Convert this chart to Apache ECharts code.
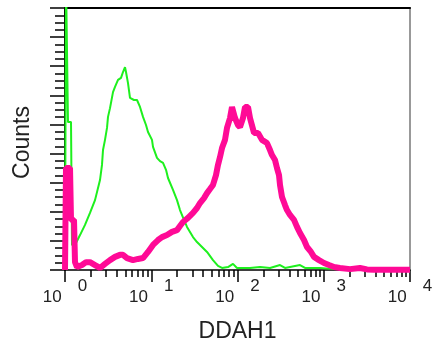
<!DOCTYPE html>
<html>
<head>
<meta charset="utf-8">
<script src="https://cdn.jsdelivr.net/npm/echarts@6/dist/echarts.min.js"></script>
<style>
html,body{margin:0;padding:0;background:#fff;}
#chart{width:437px;height:358px;}
</style>
</head>
<body>
<div id="chart"></div>
<script>
// Axis ticks / labels
const xMin = 1, xMax = 10000;
const yMin = 0, yMax = 90, yInterval = 10;
const majorTicks = [1, 10, 100, 1000, 10000];
const exponentLabels = ['0', '1', '2', '3', '4'];
const minorTicks = [2,3,4,5,6,7,8,9, 20,30,40,50,60,70,80,90, 200,300,400,500,600,700,800,900, 2000,3000,4000,5000,6000,7000,8000,9000];

// Green histogram (DDAH1 channel value, counts)
const greenX = [1,1.027,1.083,1.083,1.174,1.206,1.306,1.493,1.706,1.949,2.228,2.545,2.685,2.758,2.909,3.069,3.152,3.325,3.602,3.800,4.117,4.460,4.704,4.963,5.096,5.376,5.670,6.310,6.837,7.406,8.024,8.694,9.170,10.20,10.48,11.66,12.63,13.69,14.83,15.64,17.87,19.89,21.54,23.97,25.97,30.49,33.92,36.75,44.31,51.99,59.40,66.13,77.62,88.68,98.67,139.6,182.4,238.2,311.1,355.4,530.5,606.2,904.6,1350];
const greenY = [0,100,100,50.8,50.8,8.6,8.6,12.0,15.5,19.6,24.0,30.9,36.1,41.2,44.7,48.8,52.6,55.6,61.1,62.9,65.3,66.0,68.0,69.7,68.0,64.2,59.1,58.4,58.4,56.0,52.6,49.8,47.4,44.7,42.3,38.5,37.4,36.8,34.4,31.6,27.5,24.0,20.6,17.2,14.8,11.3,9.6,8.6,6.2,3.4,1.4,0.7,1.0,2.1,0.7,0.7,1.0,0.7,1.7,0.7,1.7,0.7,0.7,0.3];

// Magenta histogram
const pinkX = [1,1.027,1.143,1.174,1.272,1.306,1.378,1.574,1.752,1.949,2.228,2.545,2.909,3.325,3.800,4.342,4.704,5.234,6.143,7.022,8.024,9.170,10.48,11.98,13.32,15.22,17.40,19.89,21.54,23.34,26.67,30.49,33.92,36.75,40.89,44.31,48.00,51.99,56.33,59.40,62.69,66.13,71.64,75.55,81.85,86.35,91.08,93.54,101.3,106.9,115.8,122.2,132.4,139.6,155.4,172.9,192.3,219.8,238.2,251.2,272.1,287.1,302.9,311.1,328.1,355.4,374.8,406.1,451.9,489.7,530.5,590.2,639.6,711.6,771.0,880.9,1007,1150,1315,1543,2015,2633,3173,3825,5863,10000];
const pinkY = [0,35.0,35.0,17.2,17.2,2.7,1.0,1.7,2.7,2.7,1.7,0.7,2.1,3.4,4.5,5.2,5.2,4.1,3.4,3.8,4.1,6.2,8.6,10.3,11.3,12.0,13.1,13.7,15.1,16.5,17.9,19.6,21.3,23.0,24.7,26.4,27.8,29.2,32.6,36.1,38.8,41.9,44.7,48.8,52.2,56.0,56.0,52.2,49.8,49.1,52.2,56.0,56.0,52.2,47.1,47.1,44.7,43.6,41.2,39.5,37.8,35.0,32.6,29.2,25.1,22.3,20.6,18.9,17.2,14.8,12.7,10.3,7.9,6.2,4.5,3.4,2.4,1.7,1.0,0.7,0.3,0.7,0.2,0.1,0.1,0.1];

const greenData = greenX.map((x, i) => [x, greenY[i]]);
const pinkData = pinkX.map((x, i) => [x, pinkY[i]]);

const textColor = '#222';
const fontFam = '"Liberation Sans", Arial, sans-serif';

function expLabel(value) {
  let idx = 0;
  for (let i = 0; i < majorTicks.length; i++) {
    if (Math.abs(Math.log10(value) - Math.log10(majorTicks[i])) < 0.01) idx = i;
  }
  return '{b|10}{e|' + exponentLabels[idx] + '}';
}

const chart = echarts.init(document.getElementById('chart'), null, {renderer: 'canvas'});
chart.setOption({
  animation: false,
  backgroundColor: '#fff',
  grid: {left: 65, right: 27, top: 8, bottom: 88, containLabel: false},
  xAxis: [
    {
      type: 'log', logBase: 10, min: xMin, max: xMax, position: 'bottom', offset: 2,
      name: 'DDAH1', nameLocation: 'middle', nameGap: 48,
      nameTextStyle: {fontSize: 23, color: textColor, fontFamily: fontFam},
      axisLine: {show: true, lineStyle: {color: '#000', width: 1.5}},
      axisTick: {show: true, inside: false, length: 12, customValues: majorTicks, lineStyle: {color: '#000', width: 1.5}},
      axisLabel: {
        show: true, margin: 11, customValues: majorTicks, formatter: expLabel,
        color: textColor, fontFamily: fontFam,
        rich: {
          b: {fontSize: 17, lineHeight: 17, padding: [11, 0, 0, 0], color: textColor, fontFamily: fontFam},
          e: {fontSize: 17, lineHeight: 17, padding: [0, 0, 11, 16], color: textColor, fontFamily: fontFam}
        }
      },
      splitLine: {show: false}, minorTick: {show: false}
    },
    {
      type: 'log', logBase: 10, min: xMin, max: xMax, position: 'bottom', offset: 2,
      axisLine: {show: false},
      axisTick: {show: true, inside: false, length: 7, customValues: minorTicks, lineStyle: {color: '#000', width: 1.5}},
      axisLabel: {show: false},
      splitLine: {show: false}
    },
    {
      type: 'log', logBase: 10, min: xMin, max: xMax, position: 'top',
      axisLine: {show: true, lineStyle: {color: '#000', width: 2}},
      axisTick: {show: false}, axisLabel: {show: false}, splitLine: {show: false}
    }
  ],
  yAxis: [
    {
      type: 'value', min: yMin, max: yMax, interval: yInterval, position: 'left',
      name: 'Counts', nameLocation: 'middle', nameGap: 31, nameRotate: 90,
      nameTextStyle: {fontSize: 23, color: textColor, fontFamily: fontFam, padding: [0, 7, 0, 0]},
      axisLine: {show: true, lineStyle: {color: '#000', width: 2}},
      axisTick: {show: true, inside: false, length: 15, lineStyle: {color: '#000', width: 1.5}},
      minorTick: {show: true, splitNumber: 4, length: 10, lineStyle: {color: '#000', width: 1.5}},
      axisLabel: {show: false},
      splitLine: {show: false}
    },
    {
      type: 'value', min: yMin, max: yMax, position: 'right',
      axisLine: {show: true, lineStyle: {color: '#777', width: 1.5}},
      axisTick: {show: false}, axisLabel: {show: false}, splitLine: {show: false}
    }
  ],
  series: [
    {
      name: 'control', type: 'line', xAxisIndex: 0, yAxisIndex: 0,
      data: greenData, showSymbol: false, symbol: 'none', clip: true,
      lineStyle: {color: '#1ef01e', width: 2}, z: 3
    },
    {
      name: 'DDAH1', type: 'line', xAxisIndex: 0, yAxisIndex: 0,
      data: pinkData, showSymbol: false, symbol: 'none', clip: true,
      lineStyle: {color: '#ff0a96', width: 6}, z: 4
    }
  ]
});
</script>
</body>
</html>
